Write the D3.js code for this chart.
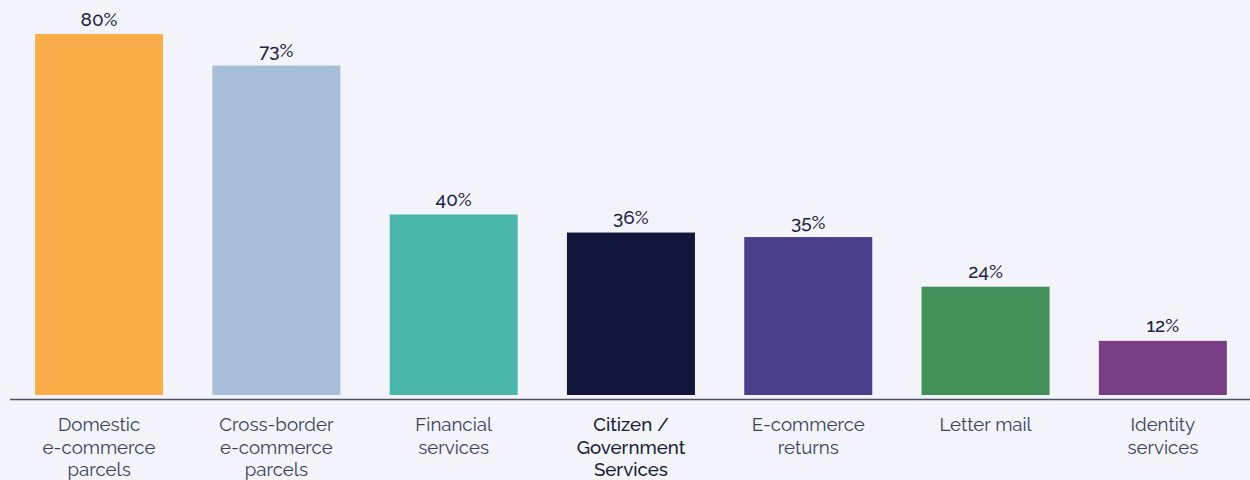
<!DOCTYPE html>
<html>
<head>
<meta charset="utf-8">
<script src="https://cdn.jsdelivr.net/npm/d3@7"></script>
<style>
  html, body { margin: 0; padding: 0; background: #f3f4f9; }
  svg { display: block; }
</style>
</head>
<body>
<svg id="chart" width="1250" height="480"></svg>
<script>
// Share of respondents offering each service
const categories = [
  ["Domestic", "e-commerce", "parcels"],
  ["Cross-border", "e-commerce", "parcels"],
  ["Financial", "services"],
  ["Citizen /", "Government", "Services"],
  ["E-commerce", "returns"],
  ["Letter mail"],
  ["Identity", "services"]
];
const values = [80, 73, 40, 36, 35, 24, 12];
const colors = ["#f9ae4a", "#a9bed8", "#4bb7ab", "#13163b", "#4a3f8a", "#438f58", "#7a3e87"];
const emphasised = [false, false, false, true, false, false, false];

const width = 1250, height = 480;
const baseY = 399.5;
const svg = d3.select("#chart");
const font = "Raleway, Lato, 'Open Sans', sans-serif";

const x = d3.scaleBand()
  .domain(d3.range(values.length))
  .range([10.4, 1251.5])
  .paddingInner(0.278)
  .paddingOuter(0.139);

const y = d3.scaleLinear()
  .domain([0, 80])
  .range([395, 34]);

// Bars
svg.append("g")
  .selectAll("rect")
  .data(values)
  .join("rect")
  .attr("x", (d, i) => x(i))
  .attr("y", d => y(d))
  .attr("width", x.bandwidth())
  .attr("height", d => y(0) - y(d))
  .attr("fill", (d, i) => colors[i]);

// Value labels
svg.append("g")
  .selectAll("text")
  .data(values)
  .join("text")
  .attr("x", (d, i) => x(i) + x.bandwidth() / 2)
  .attr("y", d => y(d) - 8.5)
  .attr("text-anchor", "middle")
  .attr("font-family", font)
  .attr("font-size", 19)
  .attr("font-weight", 500)
  .attr("fill", "#1e2246")
  .text(d => d + "%");

// Baseline
svg.append("line")
  .attr("x1", 10).attr("x2", width)
  .attr("y1", baseY).attr("y2", baseY)
  .attr("stroke", "#4a4f66")
  .attr("stroke-width", 1.3);

// Category labels
const labels = svg.append("g")
  .selectAll("text")
  .data(categories)
  .join("text")
  .attr("x", (d, i) => x(i) + x.bandwidth() / 2)
  .attr("y", 431)
  .attr("text-anchor", "middle")
  .attr("font-family", font)
  .attr("font-size", 18.7)
  .attr("font-weight", (d, i) => emphasised[i] ? 500 : 400)
  .attr("fill", (d, i) => emphasised[i] ? "#1a1d3a" : "#3b3f5e");

labels.selectAll("tspan")
  .data(d => d)
  .join("tspan")
  .attr("x", function () { return d3.select(this.parentNode).attr("x"); })
  .attr("dy", (d, j) => j === 0 ? 0 : 22.7)
  .text(d => d);
</script>
</body>
</html>
